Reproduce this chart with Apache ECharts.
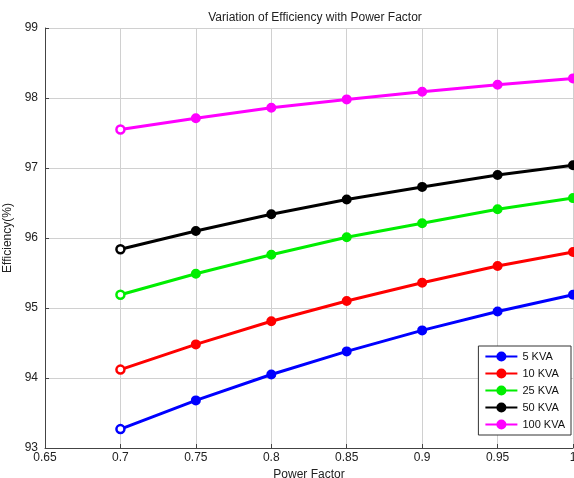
<!DOCTYPE html>
<html><head><meta charset="utf-8">
<script src="https://cdn.jsdelivr.net/npm/echarts@6/dist/echarts.min.js"></script>
<style>html,body{margin:0;padding:0;background:#fff}#c{width:574px;height:478px}</style>
</head><body><div id="c"></div>
<script>
const powerFactor = [0.7, 0.75, 0.8, 0.85, 0.9, 0.95, 1.0];
const kva5   = [93.27, 93.68, 94.05, 94.38, 94.68, 94.95, 95.19];
const kva10  = [94.12, 94.48, 94.81, 95.10, 95.36, 95.60, 95.80];
const kva25  = [95.19, 95.49, 95.76, 96.01, 96.21, 96.41, 96.57];
const kva50  = [95.84, 96.10, 96.34, 96.55, 96.73, 96.90, 97.04];
const kva100 = [97.55, 97.71, 97.86, 97.98, 98.09, 98.19, 98.28];
const seriesNames = ['5 KVA', '10 KVA', '25 KVA', '50 KVA', '100 KVA'];
const seriesValues = [kva5, kva10, kva25, kva50, kva100];
const colors = ['#0000ff', '#ff0000', '#00ee00', '#000000', '#ff00ff'];

const font = 'Liberation Sans, Arial, sans-serif';
const chart = echarts.init(document.getElementById('c'));
chart.setOption({
  animation: false,
  title: {
    text: 'Variation of Efficiency with Power Factor',
    left: 310, textAlign: 'center', top: 7,
    textStyle: {fontFamily: font, fontSize: 12, fontWeight: 'normal', color: '#222'}
  },
  grid: {left: 45, right: 1, top: 28, bottom: 30, containLabel: false, outerBoundsMode: 'none'},
  legend: {
    orient: 'vertical', right: 3, top: 346,
    backgroundColor: '#fff', borderColor: '#333', borderWidth: 1,
    padding: [5, 6, 5, 6], itemGap: 6, itemWidth: 32, itemHeight: 10,
    textStyle: {fontFamily: font, fontSize: 11, color: '#111'},
    data: seriesNames
  },
  xAxis: {
    type: 'value', min: 0.65, max: 1.0, interval: 0.05,
    name: 'Power Factor', nameLocation: 'middle', nameGap: 21,
    nameTextStyle: {fontFamily: font, fontSize: 12, color: '#222'},
    axisLine: {show: true, lineStyle: {color: '#444', width: 1}},
    axisTick: {show: true, inside: true, length: 4, lineStyle: {color: '#444'}},
    axisLabel: {fontFamily: font, fontSize: 12, color: '#222', margin: 4, showMaxLabel: true},
    splitLine: {show: true, lineStyle: {color: '#d0d0d0', width: 1}}
  },
  yAxis: {
    type: 'value', min: 93, max: 99, interval: 1,
    name: 'Efficiency(%)', nameLocation: 'middle', nameGap: 27, nameRotate: 90,
    nameTextStyle: {fontFamily: font, fontSize: 12, color: '#222'},
    axisLine: {show: true, lineStyle: {color: '#444', width: 1}},
    axisTick: {show: true, inside: true, length: 4, lineStyle: {color: '#444'}},
    axisLabel: {fontFamily: font, fontSize: 12, color: '#222', margin: 7},
    splitLine: {show: true, lineStyle: {color: '#d0d0d0', width: 1}}
  },
  series: seriesNames.map((name, i) => ({
    name: name, type: 'line',
    symbol: 'circle', symbolSize: 8,
    lineStyle: {width: 3, color: colors[i]},
    itemStyle: {color: colors[i], borderColor: colors[i], borderWidth: 2},
    data: powerFactor.map((x, j) => j === 0
      ? {value: [x, seriesValues[i][j]], itemStyle: {color: '#fff', borderColor: colors[i], borderWidth: 2.5}}
      : {value: [x, seriesValues[i][j]]})
  }))
});
</script></body></html>
